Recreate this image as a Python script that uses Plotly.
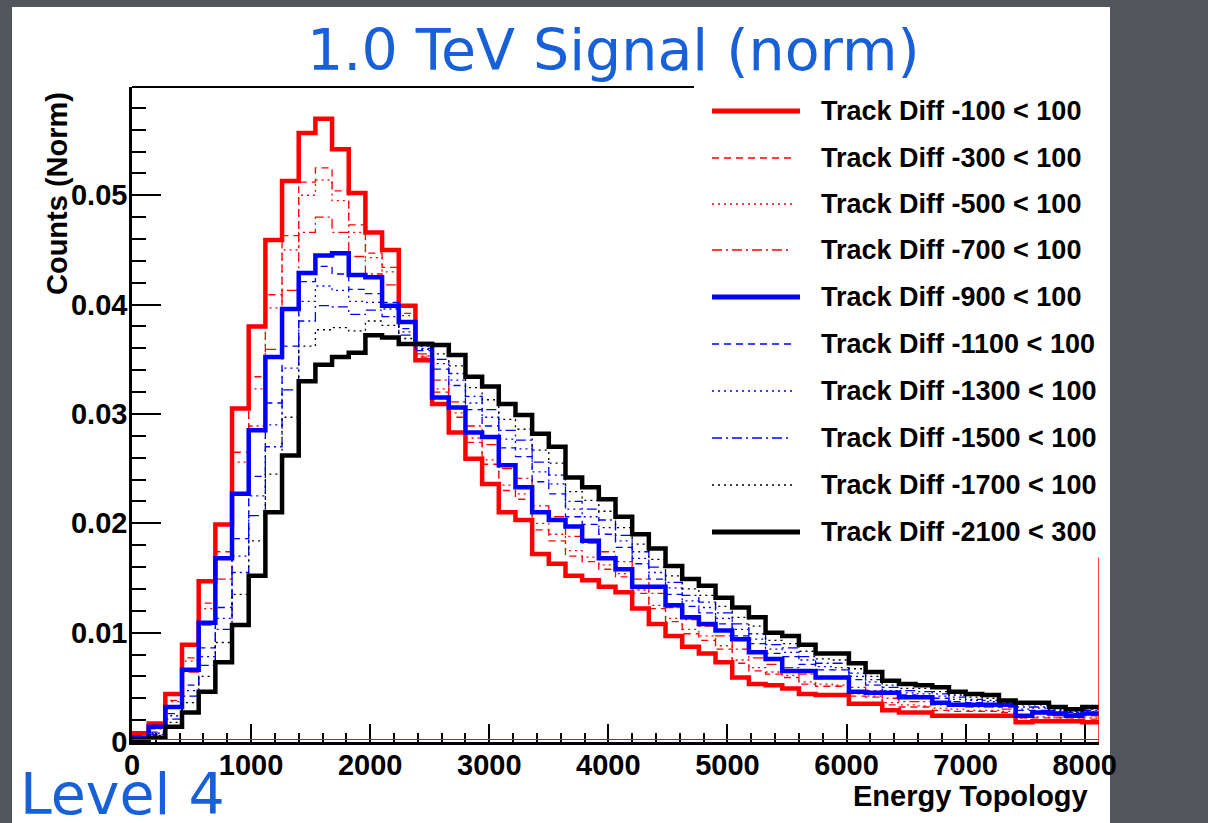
import plotly.graph_objects as go

# ---------------- data ----------------
x_min, x_max, n_bins = 0.0, 8120.0, 58
bin_width = (x_max - x_min) / n_bins
edges = [x_min + i * bin_width for i in range(n_bins + 1)]

labels = ["Track Diff -100 < 100", "Track Diff -300 < 100", "Track Diff -500 < 100",
          "Track Diff -700 < 100", "Track Diff -900 < 100", "Track Diff -1100 < 100",
          "Track Diff -1300 < 100", "Track Diff -1500 < 100", "Track Diff -1700 < 100",
          "Track Diff -2100 < 300"]

td_100 = [.0008,.0017,.0044,.0089,.0147,.0199,.0305,.0380,.0459,.0513,
          .0557,.0570,.0542,.0502,.0466,.0450,.0399,.0349,.0309,.0283,
          .0259,.0236,.0210,.0203,.0172,.0163,.0152,.0148,.0142,.0137,
          .0122,.0108,.0097,.0087,.0081,.0073,.0059,.0053,.0052,.0049,
          .0044,.0043,.0043,.0035,.0035,.0029,.0027,.0027,.0024,.0024,
          .0024,.0024,.0024,.0018,.0019,.0019,.0019,.0018]
td_300 = [.0007,.0014,.0038,.0077,.0127,.0174,.0265,.0334,.0409,.0463,
          .0512,.0525,.0504,.0473,.0447,.0434,.0392,.0352,.0320,.0297,
          .0274,.0254,.0230,.0222,.0194,.0184,.0170,.0165,.0158,.0151,
          .0136,.0122,.0110,.0099,.0093,.0085,.0072,.0065,.0062,.0059,
          .0053,.0051,.0051,.0042,.0041,.0034,.0032,.0032,.0029,.0028,
          .0028,.0028,.0027,.0022,.0022,.0022,.0021,.0021]
td_500 = [.0007,.0014,.0037,.0074,.0122,.0168,.0256,.0323,.0397,.0450,
          .0500,.0514,.0495,.0466,.0443,.0430,.0390,.0353,.0323,.0301,
          .0278,.0258,.0235,.0227,.0200,.0190,.0175,.0169,.0162,.0154,
          .0139,.0125,.0113,.0103,.0097,.0088,.0075,.0068,.0064,.0061,
          .0055,.0053,.0052,.0044,.0042,.0036,.0034,.0033,.0031,.0030,
          .0029,.0029,.0028,.0022,.0023,.0022,.0022,.0022]
td_700 = [.0006,.0012,.0032,.0064,.0107,.0149,.0226,.0289,.0359,.0413,
          .0466,.0480,.0466,.0444,.0428,.0418,.0385,.0355,.0331,.0311,
          .0289,.0272,.0250,.0241,.0216,.0206,.0188,.0182,.0174,.0165,
          .0149,.0136,.0123,.0112,.0106,.0097,.0085,.0077,.0071,.0068,
          .0062,.0058,.0058,.0050,.0047,.0040,.0037,.0037,.0034,.0033,
          .0032,.0032,.0030,.0025,.0026,.0024,.0023,.0024]
td_900 = [.0004,.0014,.0032,.0066,.0109,.0168,.0227,.0285,.0352,.0396,
          .0429,.0445,.0447,.0427,.0425,.0399,.0384,.0364,.0315,.0306,
          .0283,.0279,.0253,.0233,.0210,.0203,.0197,.0184,.0168,.0158,
          .0142,.0142,.0125,.0114,.0108,.0102,.0094,.0082,.0076,.0065,
          .0065,.0059,.0059,.0046,.0045,.0045,.0041,.0041,.0036,.0034,
          .0034,.0034,.0034,.0024,.0027,.0026,.0024,.0026]
td_1100 = [.0004,.0009,.0026,.0052,.0086,.0123,.0186,.0243,.0310,.0362,
           .0421,.0435,.0428,.0414,.0410,.0402,.0378,.0358,.0341,.0326,
           .0304,.0289,.0269,.0261,.0238,.0227,.0206,.0199,.0190,.0178,
           .0163,.0149,.0135,.0124,.0118,.0108,.0097,.0090,.0081,.0078,
           .0071,.0066,.0066,.0057,.0052,.0045,.0043,.0042,.0040,.0037,
           .0036,.0035,.0032,.0029,.0029,.0027,.0026,.0026]
td_1300 = [.0004,.0008,.0024,.0047,.0078,.0113,.0170,.0225,.0290,.0342,
           .0403,.0417,.0413,.0403,.0402,.0396,.0375,.0359,.0346,.0331,
           .0310,.0297,.0277,.0268,.0247,.0236,.0213,.0206,.0196,.0184,
           .0168,.0155,.0141,.0129,.0123,.0113,.0103,.0094,.0085,.0082,
           .0075,.0069,.0068,.0060,.0055,.0047,.0045,.0044,.0042,.0039,
           .0038,.0037,.0033,.0030,.0031,.0028,.0027,.0028]
td_1500 = [.0003,.0007,.0021,.0042,.0070,.0103,.0155,.0207,.0270,.0322,
           .0385,.0399,.0398,.0391,.0395,.0389,.0372,.0360,.0350,.0337,
           .0316,.0304,.0285,.0276,.0256,.0244,.0220,.0213,.0203,.0189,
           .0174,.0160,.0146,.0134,.0128,.0118,.0108,.0099,.0089,.0086,
           .0078,.0072,.0072,.0063,.0057,.0050,.0047,.0046,.0044,.0041,
           .0039,.0038,.0035,.0032,.0032,.0029,.0027,.0029]
td_1700 = [.0003,.0006,.0018,.0036,.0060,.0091,.0135,.0184,.0245,.0297,
           .0362,.0377,.0379,.0376,.0385,.0381,.0369,.0362,.0355,.0344,
           .0324,.0313,.0295,.0286,.0267,.0255,.0229,.0221,.0211,.0196,
           .0181,.0167,.0152,.0140,.0134,.0124,.0114,.0106,.0093,.0090,
           .0083,.0076,.0075,.0067,.0060,.0052,.0049,.0049,.0046,.0043,
           .0041,.0040,.0036,.0034,.0034,.0030,.0028,.0030]
td_2100 = [.0002,.0004,.0014,.0027,.0046,.0073,.0107,.0152,.0210,.0262,
           .0330,.0345,.0352,.0356,.0372,.0370,.0364,.0364,.0363,.0354,
           .0334,.0325,.0309,.0299,.0282,.0270,.0242,.0233,.0222,.0206,
           .0190,.0177,.0161,.0149,.0143,.0132,.0123,.0114,.0100,.0097,
           .0089,.0081,.0081,.0072,.0064,.0056,.0053,.0052,.0050,.0046,
           .0044,.0043,.0038,.0036,.0036,.0032,.0030,.0032]

series = [td_100, td_300, td_500, td_700, td_900,
          td_1100, td_1300, td_1500, td_1700, td_2100]

y_max = 0.0599
red_edge_top = 0.0169

x_ticks = [0, 1000, 2000, 3000, 4000, 5000, 6000, 7000, 8000]
y_ticks = [0, 0.01, 0.02, 0.03, 0.04, 0.05]
y_tick_text = ["0", "0.01", "0.02", "0.03", "0.04", "0.05"]

# ---------------- styles ----------------
colors = ["#ff0000"] * 4 + ["#0000ff"] * 4 + ["#000000"] * 2
dashes = ["solid", "7px,5px", "2px,4px", "10px,4px,2px,4px",
          "solid", "7px,5px", "2px,4px", "10px,4px,2px,4px",
          "2px,4px", "solid"]
widths = [4.5, 1.3, 1.3, 1.3, 4.5, 1.3, 1.3, 1.3, 1.3, 4.5]

W, H = 1208, 823
L, R, T, B = 132, 109, 87, 81
PW, PH = W - L - R, H - T - B


def px(xp):
    return (xp - L) / PW


def py(yp):
    return (H - B - yp) / PH


fig = go.Figure()
for vals, lab, col, dsh, w in zip(series, labels, colors, dashes, widths):
    fig.add_trace(go.Scatter(
        x=edges, y=vals + [vals[-1]], mode="lines", name=lab,
        line=dict(shape="hv", color=col, dash=dsh, width=w),
        showlegend=False, hoverinfo="skip"))

shapes = []
# white canvas
shapes.append(dict(type="rect", xref="paper", yref="paper", layer="below",
                   x0=px(12), x1=px(1110), y0=py(840), y1=py(7),
                   fillcolor="white", line=dict(width=0)))
# thin red line along the bottom
shapes.append(dict(type="line", xref="paper", yref="paper", layer="above",
                   x0=0, x1=1, y0=py(739.5), y1=py(739.5),
                   line=dict(color="#ff0000", width=1)))
# red right edge
shapes.append(dict(type="line", xref="x", yref="y", layer="above",
                   x0=x_max, x1=x_max, y0=0, y1=red_edge_top,
                   line=dict(color="#ff0000", width=1.5)))
# legend box
shapes.append(dict(type="rect", xref="paper", yref="paper", layer="above",
                   x0=px(694), x1=px(1110), y0=py(556), y1=py(84),
                   fillcolor="white", line=dict(width=0)))
# top frame line
shapes.append(dict(type="line", xref="paper", yref="paper", layer="above",
                   x0=0, x1=px(694), y0=1, y1=1,
                   line=dict(color="black", width=2)))

row_y = [111, 158, 204, 250, 297, 344, 391, 438, 485, 532]
annotations = []
for yy, lab, col, dsh, w in zip(row_y, labels, colors, dashes, widths):
    shapes.append(dict(type="line", xref="paper", yref="paper", layer="above",
                       x0=px(712), x1=px(800 if w > 2 else 792), y0=py(yy), y1=py(yy),
                       line=dict(color=col, dash=dsh, width=5 if w > 2 else 1.5)))
    annotations.append(dict(xref="paper", yref="paper", x=px(819), y=py(yy),
                            xanchor="left", yanchor="middle", showarrow=False,
                            text=lab,
                            font=dict(family="Liberation Sans", size=27,
                                      color="black", weight="bold")))

axis_font = dict(family="Liberation Sans", size=29, color="black", weight="bold")

annotations.append(dict(xref="paper", yref="paper", x=px(1090), y=py(796),
                        xanchor="right", yanchor="middle", showarrow=False,
                        text="Energy Topology", font=axis_font))
annotations.append(dict(xref="paper", yref="paper", x=px(57), y=py(194),
                        xanchor="center", yanchor="middle", showarrow=False,
                        textangle=-90, text="Counts (Norm)", font=axis_font))
annotations.append(dict(xref="paper", yref="paper", x=px(613), y=py(50),
                        xanchor="center", yanchor="middle", showarrow=False,
                        text="1.0 TeV Signal (norm)",
                        font=dict(family="DejaVu Sans", size=57, color="#1760d8")))
annotations.append(dict(xref="paper", yref="paper", x=px(18), y=py(794),
                        xanchor="left", yanchor="middle", showarrow=False,
                        text="Level 4",
                        font=dict(family="DejaVu Sans", size=57, color="#1760d8")))

fig.update_layout(
    width=W, height=H,
    margin=dict(l=L, r=R, t=T, b=B, pad=0),
    paper_bgcolor="#52565c",
    plot_bgcolor="rgba(0,0,0,0)",
    shapes=shapes, annotations=annotations,
    showlegend=False,
    xaxis=dict(range=[x_min, x_max], showgrid=False, zeroline=False,
               showline=True, linecolor="black", linewidth=2.5,
               ticks="inside", ticklen=18, tickwidth=1.5, tickcolor="black",
               tickvals=x_ticks, ticktext=[str(v) for v in x_ticks],
               tickfont=axis_font, ticklabelstandoff=-5,
               minor=dict(dtick=200, tick0=0, ticks="inside", ticklen=9,
                          tickwidth=1.5, tickcolor="black")),
    yaxis=dict(range=[0, y_max], showgrid=False, zeroline=False,
               showline=True, linecolor="black", linewidth=2.5,
               ticks="inside", ticklen=29, tickwidth=1.5, tickcolor="black",
               tickvals=y_ticks, ticktext=y_tick_text,
               tickfont=axis_font, ticklabelstandoff=-4,
               minor=dict(dtick=0.002, tick0=0, ticks="inside", ticklen=14,
                          tickwidth=1.5, tickcolor="black")),
)

fig.write_html("out.html")
